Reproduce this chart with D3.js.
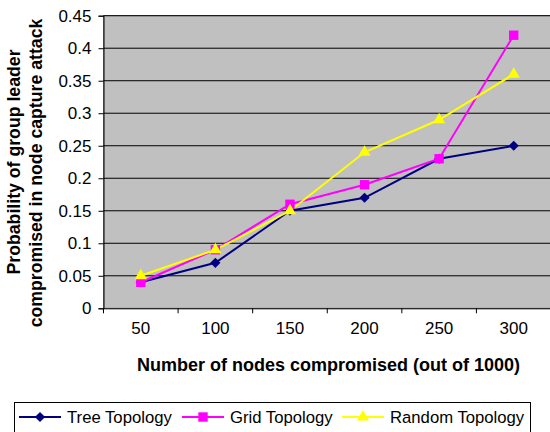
<!DOCTYPE html>
<html><head><meta charset="utf-8">
<script src="https://cdn.jsdelivr.net/npm/d3@7"></script>
<style>body{margin:0;background:#fff;} text{font-family:Arial,"Liberation Sans",sans-serif;}</style>
</head><body>
<svg id="c" width="550" height="432"></svg>
<script>
const categories = ["50","100","150","200","250","300"];
const treeValues = [0.04,0.07,0.15,0.17,0.23,0.25];
const gridValues = [0.04,0.09,0.16,0.19,0.23,0.42];
const randomValues = [0.05,0.09,0.15,0.24,0.29,0.36];
const yTicks = [0,0.05,0.1,0.15,0.2,0.25,0.3,0.35,0.4,0.45];
const seriesNames = ["Tree Topology","Grid Topology","Random Topology"];
const yTitle = ["Probability of group leader","compromised in node capture attack"];
const xTitle = "Number of nodes compromised (out of 1000)";

const series = [
  {name:seriesNames[0], values:treeValues, color:"#000080", shape:d3.symbolSquare, size:52, rot:45},
  {name:seriesNames[1], values:gridValues, color:"#FF00FF", shape:d3.symbolSquare, size:88, rot:0},
  {name:seriesNames[2], values:randomValues, color:"#FFFF00", shape:d3.symbolTriangle, size:64, rot:0}
];

const svg = d3.select("#c");
const L=103.5, R=551, T=15.7, B=308.3;
const x = d3.scaleBand().domain(categories).range([L,R]);
const y = d3.scaleLinear().domain([0,0.45]).range([B,T]);

svg.append("rect").attr("x",L).attr("y",T).attr("width",R-L).attr("height",B-T)
  .attr("fill","#C0C0C0").attr("stroke","#808080").attr("stroke-width",1);

// gridlines
svg.append("g").selectAll("line").data(yTicks.slice(1)).join("line")
  .attr("x1",L).attr("x2",R).attr("y1",d=>y(d)).attr("y2",d=>y(d))
  .attr("stroke","#000").attr("stroke-width",1);

// y axis
const yAxis = svg.append("g").attr("transform",`translate(${L},0)`)
  .call(d3.axisLeft(y).tickValues(yTicks).tickFormat(d=>String(+d.toFixed(2))).tickSize(5).tickPadding(7));
yAxis.select(".domain").attr("stroke","#000");
yAxis.selectAll("text").style("font-size","17px").attr("fill","#000");

// x axis
const xAxis = svg.append("g").attr("transform",`translate(0,${B})`)
  .call(d3.axisBottom(x).tickSize(0).tickPadding(14));
xAxis.select(".domain").attr("stroke","#000");
xAxis.selectAll("text").style("font-size","17px").attr("fill","#000");
const edges = categories.map(c=>x(c)).concat([x(categories[categories.length-1])+x.bandwidth()]);
xAxis.selectAll("line.edge").data(edges).join("line").attr("class","edge")
  .attr("x1",d=>d).attr("x2",d=>d).attr("y1",0).attr("y2",5).attr("stroke","#000");

// lines and markers
const cx = c => x(c)+x.bandwidth()/2;
series.forEach(s=>{
  const line = d3.line().x((d,i)=>cx(categories[i])).y(d=>y(d));
  svg.append("path").datum(s.values).attr("d",line).attr("fill","none")
    .attr("stroke",s.color).attr("stroke-width",2);
});
series.forEach(s=>{
  svg.append("g").selectAll("path").data(s.values).join("path")
    .attr("transform",(d,i)=>`translate(${cx(categories[i])},${y(d)}) rotate(${s.rot})`)
    .attr("d",d3.symbol().type(s.shape).size(s.size)).attr("fill",s.color);
});

// axis titles
svg.append("text").attr("x",328.5).attr("y",371).attr("text-anchor","middle")
  .style("font-size","18px").style("font-weight","bold").text(xTitle);
svg.append("text").attr("transform","translate(20,162) rotate(-90)").attr("text-anchor","middle")
  .style("font-size","17.7px").style("font-weight","bold").text(yTitle[0]);
svg.append("text").attr("transform","translate(42,173) rotate(-90)").attr("text-anchor","middle")
  .style("font-size","17.7px").style("font-weight","bold").text(yTitle[1]);

// legend
svg.append("rect").attr("x",14.5).attr("y",402.5).attr("width",516).attr("height",40)
  .attr("fill","#fff").attr("stroke","#000");
const legX = [19,182,342];
series.forEach((s,i)=>{
  const g = svg.append("g").attr("transform",`translate(${legX[i]},417)`);
  g.append("line").attr("x1",0).attr("x2",42).attr("stroke",s.color).attr("stroke-width",2);
  g.append("path").attr("transform",`translate(21,0) rotate(${s.rot})`).attr("d",d3.symbol().type(s.shape).size(s.size)).attr("fill",s.color);
  g.append("text").attr("x",48).attr("y",6).style("font-size","16.7px").attr("fill","#000").text(s.name);
});
</script>
</body></html>
